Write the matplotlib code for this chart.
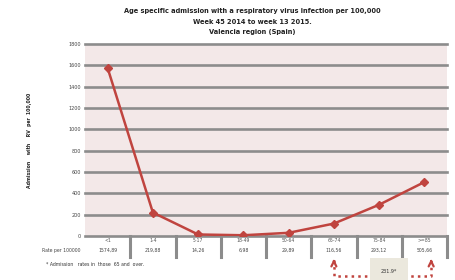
import matplotlib.pyplot as plt
from matplotlib.transforms import blended_transform_factory

categories = ["<1", "1-4", "5-17", "18-49", "50-64", "65-74", "75-84", ">=85"]
rates = [1574.89, 219.88, 14.26, 6.98, 29.89, 116.56, 293.12, 505.66]
rate_labels = ["1574,89", "219,88", "14,26", "6,98", "29,89", "116,56", "293,12", "505,66"]
yticks = [0, 200, 400, 600, 800, 1000, 1200, 1400, 1600, 1800]
over65 = "231.9*"

RED = "#c0443f"
GRID = "#8c8c8c"

fig = plt.figure(figsize=(4.55, 2.8), dpi=100)
ax = fig.add_axes([85 / 455, 1 - 236 / 280, 362 / 455, 192 / 280])
ax.set_facecolor("#f3e8e8")

x = list(range(len(categories)))
ax.set_xlim(-0.5, len(categories) - 0.5)
ax.set_ylim(0, 1800)
ax.set_yticks(yticks)
ax.set_yticklabels([str(v) for v in yticks], fontsize=3.5, color="#444444")
ax.tick_params(axis="y", length=0, pad=3)
ax.set_xticks([])
for v in yticks:
    ax.axhline(v, color=GRID, lw=1.9, zorder=1, clip_on=False)
for s in ax.spines.values():
    s.set_visible(False)

ax.plot(x, rates, color=RED, lw=1.8, marker="D", ms=4, zorder=3)

# table under the axis
tr = blended_transform_factory(ax.transData, ax.transAxes)
for i in range(len(categories)):
    ax.plot([i + 0.5, i + 0.5], [0, -0.11], color=GRID, lw=2.2,
            transform=tr, clip_on=False, zorder=2)
    ax.text(i, -0.025, categories[i], transform=tr, ha="center", va="center",
            fontsize=3.3, color="#555555")
    ax.text(i, -0.075, rate_labels[i], transform=tr, ha="center", va="center",
            fontsize=3.3, color="#444444")
ax.text(-0.6, -0.075, "Rate per 100000", transform=tr, ha="right", va="center",
        fontsize=3.3, color="#444444")

fig.text(0.21, 1 - 265 / 280, "* Admission   rates in  those  65 and  over.",
         fontsize=3.3, color="#333333", va="center", ha="center")

# dotted bracket to the >=65 box
ax.plot([5, 5, 7.15, 7.15], [-0.125, -0.21, -0.21, -0.125], transform=tr,
        color=RED, lw=1.8, ls=":", clip_on=False)
for xa in (5, 7.15):
    ax.annotate("", xy=(xa, -0.105), xytext=(xa, -0.15), xycoords=tr,
                arrowprops=dict(arrowstyle="->", color=RED, lw=1.6,
                                mutation_scale=9),
                annotation_clip=False)
ax.text(6.22, -0.185, over65, transform=tr, ha="center", va="center",
        fontsize=3.5, color="#333333",
        bbox=dict(boxstyle="square,pad=2.2", fc="#ebe8dd", ec="none"))

fig.text(0.555, 1 - 11 / 280,
         "Age specific admission with a respiratory virus infection per 100,000",
         ha="center", va="center", fontsize=4.8, fontweight="bold", color="#222222")
fig.text(0.555, 1 - 22 / 280, "Week 45 2014 to week 13 2015.",
         ha="center", va="center", fontsize=4.8, fontweight="bold", color="#222222")
fig.text(0.555, 1 - 32 / 280, "Valencia region (Spain)",
         ha="center", va="center", fontsize=4.8, fontweight="bold", color="#222222")

fig.text(30 / 455, 1 - 140 / 280, "Admission    with    RV  per  100,000",
         rotation=90, ha="center", va="center", fontsize=3.3, fontweight="bold",
         color="#222222")

fig.savefig("out.png", dpi=100)
